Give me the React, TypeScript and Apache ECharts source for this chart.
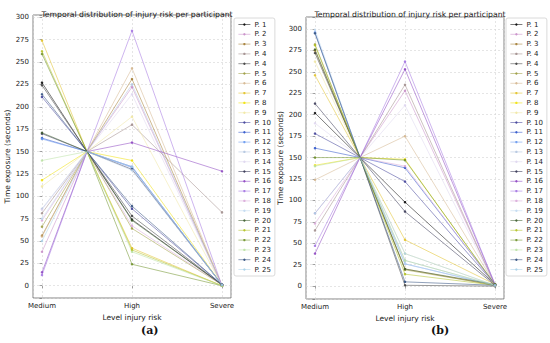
import React, { useEffect, useRef } from "react";
import * as echarts from "echarts";

const participants = [
  "P. 1", "P. 2", "P. 3", "P. 4", "P. 4 ", "P. 5", "P. 6", "P. 7", "P. 8", "P. 9",
  "P. 10", "P. 11", "P. 12", "P. 13", "P. 14", "P. 15", "P. 16", "P. 17", "P. 18",
  "P. 19", "P. 20", "P. 21", "P. 22", "P. 23", "P. 24", "P. 25",
];
const categories = ["Medium", "High", "Severe"];
const colors = [
  "#000000", "#c78cc7", "#a0782d", "#9e8a88", "#3a3a3a", "#9a9a3c", "#d2b48c", "#e0c020",
  "#f0e000", "#f0e6a0", "#3c3c96", "#2850c8", "#6495ed", "#b0c4de", "#ddd4ee", "#303050",
  "#8a40c0", "#a070e0", "#d8a8d8", "#c0d8f0", "#3a5a2a", "#b0c020", "#6b8e23", "#b8e0a0",
  "#2a4a7a", "#a8d0e8",
];
const convergeValue = 150;

// panel (a)
const mediumA = [227, 38, 56, 81, 224, 66, 55, 274, 118, 111, 211, 165, 164, 86, 85, 170, 15, 12, 73, 75, 171, 262, 259, 140, 214, 50];
const highA = [74, 222, 231, 180, 78, 64, 243, 42, 140, 189, 86, 133, 132, 225, 214, 130, 160, 285, 67, 129, 73, 40, 24, 38, 89, 133];
const severeA = [1, 0, 0, 82, 1, 1, 0, 0, 1, 0, 1, 1, 1, 0, 0, 1, 128, 0, 1, 1, 1, 0, 0, 0, 1, 1];

// panel (b)
const mediumB = [202, 85, 275, 65, 272, 282, 124, 246, 141, 262, 178, 161, 296, 295, 190, 213, 38, 47, 73, 299, 276, 281, 150, 140, 295, 85];
const highB = [98, 228, 20, 235, 1, 19, 175, 54, 148, 38, 122, 138, 26, 30, 211, 87, 253, 262, 140, 26, 20, 14, 147, 30, 5, 38];
const severeB = [2, 1, 1, 1, 0, 1, 2, 2, 1, 1, 2, 2, 1, 1, 1, 1, 2, 2, 1, 1, 2, 1, 2, 1, 1, 1];

const FONT = "DejaVu Sans";

function makeSeries(p: number, med: number[], high: number[], sev: number[]) {
  return participants.map((name, i) => ({
    type: "line",
    name,
    xAxisIndex: p,
    yAxisIndex: p,
    color: colors[i],
    symbol: "circle",
    symbolSize: 2.5,
    lineStyle: { width: 0.8, opacity: 0.65 },
    itemStyle: { opacity: 0.85 },
    emphasis: { disabled: true },
    data: [
      [0, med[i]],
      { value: [0.5, convergeValue], symbol: "none" },
      [1, high[i]],
      [2, sev[i]],
    ],
  }));
}

const grids = [
  { left: 33, top: 15, width: 198, height: 283, yMin: -13.7, yMax: 302.6, nameGap: 19 },
  { left: 306, top: 17, width: 198, height: 282, yMin: -15, yMax: 314, nameGap: 19 },
];

export default function App() {
  const ref = useRef<HTMLDivElement>(null);
  useEffect(() => {
    if (!ref.current) return;
    const chart = echarts.init(ref.current, undefined, { renderer: "svg" });
    const splitLine = { show: true, lineStyle: { color: "#d4d4d4", width: 0.6, type: [2, 2] } };
    const option: any = {
      animation: false,
      backgroundColor: "#ffffff",
      textStyle: { fontFamily: FONT },
      title: grids.map((g) => ({
        text: "Temporal distribution of injury risk per participant",
        left: g.left + g.width / 2,
        textAlign: "center",
        top: 5,
        textStyle: { fontFamily: FONT, fontSize: 7.7, fontWeight: "normal", color: "#222" },
      })),
      grid: grids.map((g) => ({
        left: g.left, top: g.top, width: g.width, height: g.height,
        show: true, borderColor: "#666", borderWidth: 0.8, backgroundColor: "transparent",
      })),
      xAxis: grids.map((g, p) => ({
        type: "value",
        gridIndex: p,
        min: -0.1,
        max: 2.1,
        minInterval: 1,
        maxInterval: 1,
        name: "Level injury risk",
        nameLocation: "middle",
        nameGap: 14,
        nameTextStyle: { fontFamily: FONT, fontSize: 7.5, color: "#222" },
        axisLine: { show: false },
        axisTick: { show: true, length: 2.5, lineStyle: { color: "#666", width: 0.6 } },
        axisLabel: {
          fontFamily: FONT, fontSize: 7, color: "#222", margin: 4,
          showMinLabel: false, showMaxLabel: false,
          formatter: (v: number) => (Math.abs(v - Math.round(v)) < 1e-6 && v >= 0 && v <= 2 ? categories[Math.round(v)] : ""),
        },
        splitLine,
      })),
      yAxis: grids.map((g, p) => ({
        type: "value",
        gridIndex: p,
        min: g.yMin,
        max: g.yMax,
        minInterval: 25,
        maxInterval: 25,
        name: "Time exposure (seconds)",
        nameLocation: "middle",
        nameRotate: 90,
        nameGap: g.nameGap,
        nameTextStyle: { fontFamily: FONT, fontSize: 7.5, color: "#222" },
        axisLine: { show: false },
        axisTick: { show: true, length: 2.5, lineStyle: { color: "#666", width: 0.6 } },
        axisLabel: {
          fontFamily: FONT, fontSize: 7, color: "#222", margin: 4,
          formatter: (v: number) => (Math.abs(v % 25) < 1e-6 ? String(v) : ""),
        },
        splitLine,
      })),
      legend: grids.map((g, p) => ({
        data: participants,
        orient: "vertical",
        left: p === 0 ? 234 : 506,
        top: 18,
        padding: [3, 4, 3, 4],
        itemWidth: 12,
        itemHeight: 3,
        itemGap: 2.8,
        selectedMode: false,
        borderColor: "#d0d0d0",
        borderWidth: 0.8,
        borderRadius: 2,
        backgroundColor: "#ffffff",
        lineStyle: { width: 0.8 },
        formatter: (n: string) => n.trim(),
        textStyle: { fontFamily: FONT, fontSize: 7, lineHeight: 7, color: "#222", padding: [0, 0, 0, -1] },
      })),
      graphic: [
        { type: "text", left: 141, top: 325, style: { text: "(a)", font: "bold 11px 'DejaVu Serif'", fill: "#111" } },
        { type: "text", left: 431, top: 325, style: { text: "(b)", font: "bold 11px 'DejaVu Serif'", fill: "#111" } },
      ],
      series: [
        ...makeSeries(0, mediumA, highA, severeA),
        ...makeSeries(1, mediumB, highB, severeB),
      ],
    };
    chart.setOption(option);
    return () => chart.dispose();
  }, []);
  return (
    <div
      ref={ref}
      style={{ position: "fixed", left: 0, top: 0, width: 550, height: 343, background: "#fff" }}
    />
  );
}
